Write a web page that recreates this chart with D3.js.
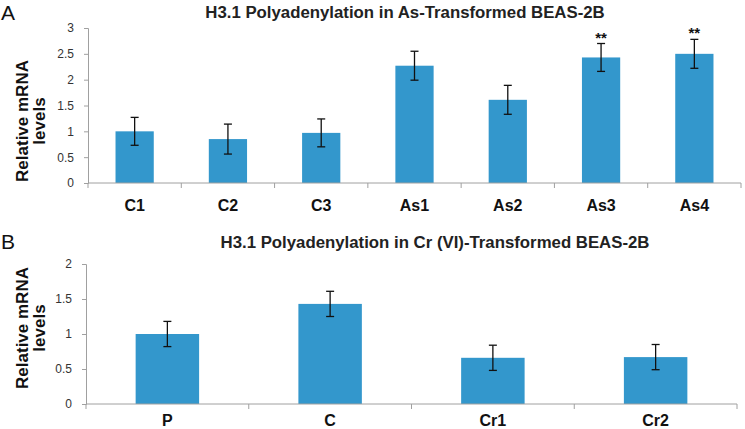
<!DOCTYPE html>
<html><head><meta charset="utf-8">
<script src="https://cdn.jsdelivr.net/npm/d3@7"></script>
<style>body{margin:0;background:#fff}svg{display:block}</style>
</head><body>
<svg id="c" width="745" height="429"></svg>
<script>
const catsA = ["C1","C2","C3","As1","As2","As3","As4"];
const valsA = [1.0,0.85,0.97,2.27,1.61,2.43,2.5];
const errA = [0.27,0.29,0.27,0.28,0.28,0.27,0.28];
const sigA = ["","","","","","**","**"];
const ticksA = [0,0.5,1,1.5,2,2.5,3];

const catsB = ["P","C","Cr1","Cr2"];
const valsB = [1.0,1.43,0.66,0.67];
const errB = [0.18,0.18,0.18,0.18];
const ticksB = [0,0.5,1,1.5,2];

const svg = d3.select("#c");
const barColor = "#3397cc";
const axisColor = "#a0a0a0";
const FF = "Liberation Sans, Arial, sans-serif";

function panel(o){
  const g = svg.append("g");
  const x = d3.scaleBand().domain(o.cats).range([o.x0,o.x1]).paddingInner(o.pad).paddingOuter(o.pad/2);
  const y = d3.scaleLinear().domain([0,o.max]).range([o.y0,o.y1]);
  const ya = g.append("g").attr("transform",`translate(${o.x0},0)`)
    .call(d3.axisLeft(y).tickValues(o.ticks).tickSize(4).tickPadding(10).tickFormat(d3.format("")));
  ya.select(".domain").attr("stroke",axisColor);
  ya.selectAll(".tick line").attr("stroke",axisColor);
  ya.selectAll(".tick text").attr("font-family",FF).attr("font-size",12).attr("fill","#333");
  g.selectAll("rect.bar").data(o.vals).join("rect").attr("class","bar")
    .attr("x",(d,i)=>x(o.cats[i])).attr("width",x.bandwidth())
    .attr("y",d=>y(d)).attr("height",d=>y(0)-y(d)).attr("fill",barColor);
  const step = (o.x1-o.x0)/o.cats.length;
  g.append("line").attr("x1",o.x0).attr("x2",o.x1).attr("y1",y(0)).attr("y2",y(0)).attr("stroke",axisColor);
  g.selectAll("line.sep").data(d3.range(o.cats.length+1)).join("line").attr("class","sep")
    .attr("x1",i=>o.x0+i*step).attr("x2",i=>o.x0+i*step).attr("y1",y(0)).attr("y2",y(0)+5).attr("stroke",axisColor);
  const eg = g.selectAll("g.err").data(o.vals).join("g").attr("class","err");
  eg.append("line").attr("x1",(d,i)=>x(o.cats[i])+x.bandwidth()/2).attr("x2",(d,i)=>x(o.cats[i])+x.bandwidth()/2)
    .attr("y1",(d,i)=>y(d+o.err[i])).attr("y2",(d,i)=>y(d-o.err[i])).attr("stroke","#111").attr("stroke-width",1.3);
  [1,-1].forEach(s=>{
    eg.append("line").attr("x1",(d,i)=>x(o.cats[i])+x.bandwidth()/2-4).attr("x2",(d,i)=>x(o.cats[i])+x.bandwidth()/2+4)
      .attr("y1",(d,i)=>y(d+s*o.err[i])).attr("y2",(d,i)=>y(d+s*o.err[i])).attr("stroke","#111").attr("stroke-width",1.3);
  });
  if(o.sig){
    g.selectAll("text.sig").data(o.sig).join("text").attr("class","sig")
      .attr("x",(d,i)=>x(o.cats[i])+x.bandwidth()/2).attr("y",(d,i)=>y(o.vals[i]+o.err[i])-1)
      .attr("text-anchor","middle").attr("font-family",FF)
      .attr("font-size",15).attr("font-weight","bold").attr("fill","#111").text(d=>d);
  }
  g.selectAll("text.xl").data(o.cats).join("text").attr("class","xl")
    .attr("x",d=>x(d)+x.bandwidth()/2).attr("y",o.xlY).attr("text-anchor","middle")
    .attr("font-family",FF).attr("font-size",16).attr("font-weight","bold").attr("fill","#111").text(d=>d);
  g.append("text").attr("x",o.titleX).attr("y",o.titleY).attr("text-anchor","middle")
    .attr("font-family",FF).attr("font-size",16.8).attr("font-weight","bold").attr("fill","#222").text(o.title);
  const yl = g.append("text").attr("transform",`translate(${o.ylX},${o.ylY}) rotate(-90)`)
    .attr("text-anchor","middle").attr("font-family",FF).attr("font-size",17).attr("font-weight","bold").attr("fill","#111");
  yl.append("tspan").attr("x",0).attr("dy",0).text("Relative mRNA");
  yl.append("tspan").attr("x",0).attr("dy",17).text("levels");
  g.append("text").attr("x",1).attr("y",o.letterY).attr("font-family",FF)
    .attr("font-size",21).attr("fill","#111").text(o.letter);
}

panel({cats:catsA,vals:valsA,err:errA,sig:sigA,ticks:ticksA,max:3,x0:88,x1:741,y0:183,y1:28,pad:0.59,
  xlY:211,title:"H3.1 Polyadenylation in As-Transformed BEAS-2B",titleX:405,titleY:18,ylX:28,ylY:121,letter:"A",letterY:20});
panel({cats:catsB,vals:valsB,err:errB,sig:null,ticks:ticksB,max:2,x0:86,x1:737,y0:404,y1:264,pad:0.61,
  xlY:426,title:"H3.1 Polyadenylation in Cr (VI)-Transformed BEAS-2B",titleX:435,titleY:248,ylX:28,ylY:328,letter:"B",letterY:249});
</script>
</body></html>
